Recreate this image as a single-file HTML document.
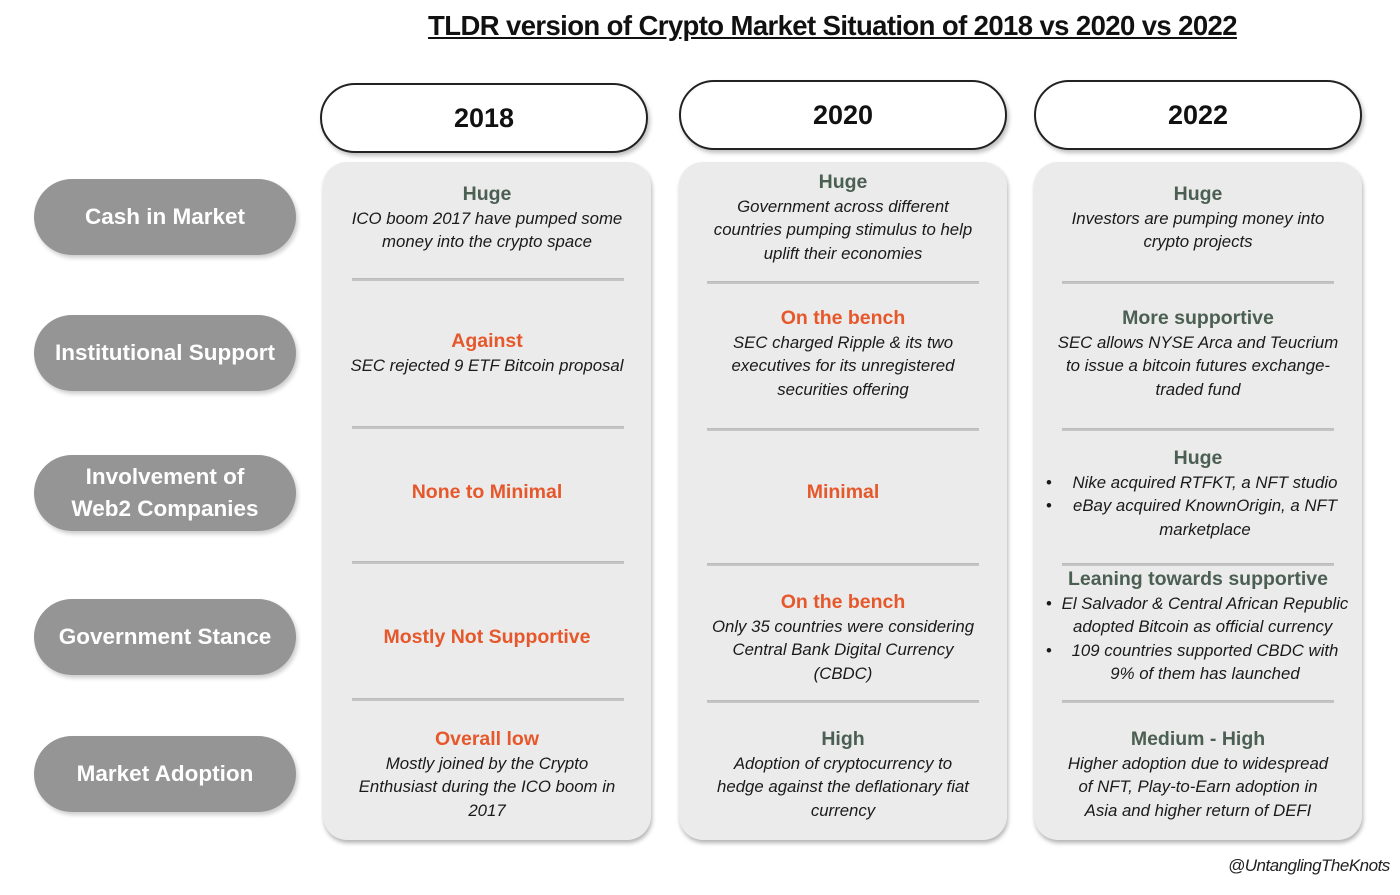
<!DOCTYPE html>
<html><head><meta charset="utf-8">
<style>
*{margin:0;padding:0;box-sizing:border-box}
body{width:1400px;height:895px;background:#fff;position:relative;overflow:hidden;font-family:"Liberation Sans",sans-serif}
.title{position:absolute;left:0;width:1400px;text-align:center;padding-left:265px;top:10px;font-size:27.5px;font-weight:bold;text-decoration:underline;color:#111;letter-spacing:-0.6px;white-space:nowrap}
.year{position:absolute;width:328px;height:70px;border:2px solid #222;border-radius:36px;background:#fff;box-shadow:2px 3px 4px rgba(0,0,0,0.25);text-align:center;line-height:66px;font-size:27px;font-weight:bold;color:#111}
.row{position:absolute;left:34px;width:262px;height:76px;border-radius:38px;background:#959595;box-shadow:2px 3px 4px rgba(0,0,0,0.2);color:#fff;font-size:22.5px;font-weight:bold;display:flex;align-items:center;justify-content:center;text-align:center;line-height:32px;white-space:nowrap}
.panel{position:absolute;top:162px;height:678px;width:328px;border-radius:24px;background:#ebebeb;box-shadow:1px 3px 4px rgba(0,0,0,0.3)}
.div{position:absolute;height:3px;width:272px;background:#c4c4c4;border-top:1px solid #bbb}
.cell{position:absolute;width:328px;text-align:center;white-space:nowrap}
.h{font-size:19.5px;font-weight:bold;line-height:25px;color:#4b5f52}
.o{color:#e6582b}
.b{font-size:16.8px;font-style:italic;line-height:23.3px;color:#1a1a1a;position:relative}
.bl::before{content:"•";position:absolute;left:12px;font-style:normal}
.sig{position:absolute;left:1228px;top:856px;font-size:17px;font-style:italic;color:#222;letter-spacing:-0.5px}
</style></head><body>
<div class="title">TLDR version of Crypto Market Situation of 2018 vs 2020 vs 2022</div>

<div class="year" style="left:320px;top:83px">2018</div>
<div class="year" style="left:679px;top:80px">2020</div>
<div class="year" style="left:1034px;top:80px">2022</div>

<div class="row" style="top:179px">Cash in Market</div>
<div class="row" style="top:315px">Institutional Support</div>
<div class="row" style="top:455px">Involvement of<br>Web2 Companies</div>
<div class="row" style="top:599px">Government Stance</div>
<div class="row" style="top:736px">Market Adoption</div>

<div class="panel" style="left:323px"></div>
<div class="panel" style="left:679px"></div>
<div class="panel" style="left:1034px"></div>

<div class="div" style="left:352px;top:278px"></div>
<div class="div" style="left:352px;top:426px"></div>
<div class="div" style="left:352px;top:561px"></div>
<div class="div" style="left:352px;top:698px"></div>
<div class="div" style="left:707px;top:281px"></div>
<div class="div" style="left:707px;top:428px"></div>
<div class="div" style="left:707px;top:563px"></div>
<div class="div" style="left:707px;top:700px"></div>
<div class="div" style="left:1062px;top:281px"></div>
<div class="div" style="left:1062px;top:428px"></div>
<div class="div" style="left:1062px;top:563px"></div>
<div class="div" style="left:1062px;top:700px"></div>

<!-- 2018 -->
<div class="cell" style="left:323px;top:182px"><div class="h">Huge</div><div class="b">ICO boom 2017 have pumped some<br>money into the crypto space</div></div>
<div class="cell" style="left:323px;top:329px"><div class="h o">Against</div><div class="b">SEC rejected 9 ETF Bitcoin proposal</div></div>
<div class="cell" style="left:323px;top:480px"><div class="h o">None to Minimal</div></div>
<div class="cell" style="left:323px;top:625px"><div class="h o">Mostly Not Supportive</div></div>
<div class="cell" style="left:323px;top:727px"><div class="h o">Overall low</div><div class="b">Mostly joined by the Crypto<br>Enthusiast during the ICO boom in<br>2017</div></div>

<!-- 2020 -->
<div class="cell" style="left:679px;top:170px"><div class="h">Huge</div><div class="b">Government across different<br>countries pumping stimulus to help<br>uplift their economies</div></div>
<div class="cell" style="left:679px;top:306px"><div class="h o">On the bench</div><div class="b">SEC charged Ripple &amp; its two<br>executives for its unregistered<br>securities offering</div></div>
<div class="cell" style="left:679px;top:480px"><div class="h o">Minimal</div></div>
<div class="cell" style="left:679px;top:590px"><div class="h o">On the bench</div><div class="b">Only 35 countries were considering<br>Central Bank Digital Currency<br>(CBDC)</div></div>
<div class="cell" style="left:679px;top:727px"><div class="h">High</div><div class="b">Adoption of cryptocurrency to<br>hedge against the deflationary fiat<br>currency</div></div>

<!-- 2022 -->
<div class="cell" style="left:1034px;top:182px"><div class="h">Huge</div><div class="b">Investors are pumping money into<br>crypto projects</div></div>
<div class="cell" style="left:1034px;top:306px"><div class="h">More supportive</div><div class="b">SEC allows NYSE Arca and Teucrium<br>to issue a bitcoin futures exchange-<br>traded fund</div></div>
<div class="cell" style="left:1034px;top:446px"><div class="h">Huge</div><div class="b bl">&nbsp;&nbsp;&nbsp;Nike acquired RTFKT, a NFT studio</div><div class="b bl">&nbsp;&nbsp;&nbsp;eBay acquired KnownOrigin, a NFT</div><div class="b">&nbsp;&nbsp;&nbsp;marketplace</div></div>
<div class="cell" style="left:1034px;top:567px"><div class="h">Leaning towards supportive</div><div class="b bl">&nbsp;&nbsp;&nbsp;El Salvador &amp; Central African Republic</div><div class="b">&nbsp;&nbsp;adopted Bitcoin as official currency</div><div class="b bl">&nbsp;&nbsp;&nbsp;109 countries supported CBDC with</div><div class="b">&nbsp;&nbsp;&nbsp;9% of them has launched</div></div>
<div class="cell" style="left:1034px;top:727px"><div class="h">Medium - High</div><div class="b">Higher adoption due to widespread<br>of NFT, Play-to-Earn adoption in<br>Asia and higher return of DEFI</div></div>

<div class="sig">@UntanglingTheKnots</div>
</body></html>
